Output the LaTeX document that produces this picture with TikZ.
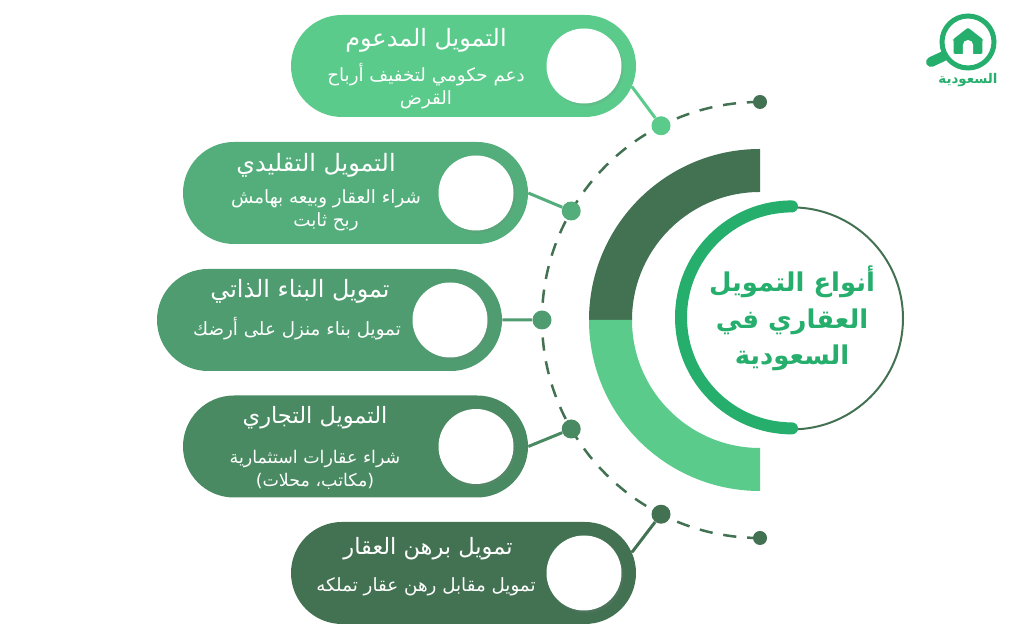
\documentclass[tikz,border=0pt]{standalone}
\usepackage{fontspec}
\usepackage{tikz}
\usetikzlibrary{positioning, shapes.misc, shadows}
\newfontfamily\arabicfont[Script=Arabic]{DejaVu Sans}
\TeXXeTstate=1
\newcommand{\arline}[1]{\beginR #1\endR}
\definecolor{tone_a}{HTML}{5ACB8B}
\definecolor{tone_b}{HTML}{53AE7B}
\definecolor{tone_c}{HTML}{4E9C6F}
\definecolor{tone_d}{HTML}{4A8A62}
\definecolor{tone_e}{HTML}{437253}
\definecolor{brand}{HTML}{26AE6C}

\begin{document}
\begin{tikzpicture}
	[on grid, node distance=3.175cm,
	pill/.style={rounded rectangle, fill=#1, minimum width=8.625cm, minimum height=2.55cm, inner sep=0pt},
	hole/.style={circle, fill=white, minimum size=1.875cm, inner sep=0pt, drop shadow={shadow xshift=.05cm, shadow yshift=-.06cm, opacity=.16}},
	headtext/.style={font=\arabicfont\fontsize{17}{20}\selectfont, text=white, inner sep=0pt},
	subtext/.style={font=\arabicfont\fontsize{13}{16.5}\selectfont, text=white, align=center, inner sep=0pt},
	joint/.style={circle, fill=#1, minimum size=.475cm, inner sep=0pt},
	tip/.style={circle, fill=tone_e, minimum size=.35cm, inner sep=0pt},
	link/.style={draw=#1, line width=.075cm}]

	\useasboundingbox (0,0) rectangle (25.6,16);
	\node[inner sep=0pt] (hub) at (19,8) {};

	\fill[tone_e] ([yshift=4.275cm]hub.center) arc [start angle=90, end angle=180, radius=4.275cm]
		-- ++(1.075,0) arc [start angle=180, end angle=90, radius=3.2cm] -- cycle;
	\fill[tone_a] ([yshift=-4.275cm]hub.center) arc [start angle=270, end angle=180, radius=4.275cm]
		-- ++(1.075,0) arc [start angle=180, end angle=270, radius=3.2cm] -- cycle;

	\node[tip] (tip_1) [above=5.45cm of hub] {};
	\node[tip] (tip_2) [below=5.45cm of hub] {};
	\draw[tone_e, line width=.0625cm, dash pattern=on .33cm off .27cm] (tip_1.center)
		arc [start angle=90, end angle=270, radius=5.45cm];

	\node[joint=tone_a] (joint_1) at ([shift={(117:5.45cm)}]hub.center) {};
	\node[joint=tone_b] (joint_2) at ([shift={(150:5.45cm)}]hub.center) {};
	\node[joint=tone_c] (joint_3) at ([shift={(180:5.45cm)}]hub.center) {};
	\node[joint=tone_d] (joint_4) at ([shift={(210:5.45cm)}]hub.center) {};
	\node[joint=tone_e] (joint_5) at ([shift={(243:5.45cm)}]hub.center) {};

	\node[pill=tone_a] (pill_1) at (11.5875,14.35) {};
	\node[pill=tone_b] (pill_2) [below left=3.175cm and 2.7cm of pill_1] {};
	\node[pill=tone_c] (pill_3) [below left=3.175cm and .65cm of pill_2] {};
	\node[pill=tone_d] (pill_4) [below right=3.1625cm and .65cm of pill_3] {};
	\node[pill=tone_e] (pill_5) [below right=3.1625cm and 2.7cm of pill_4] {};

	\node[hole] (hole_1) [right=3.0125cm of pill_1] {};
	\node[hole] (hole_2) [right=3.0125cm of pill_2] {};
	\node[hole] (hole_3) [right=3.0125cm of pill_3] {};
	\node[hole] (hole_4) [right=3.0125cm of pill_4] {};
	\node[hole] (hole_5) [right=3.0125cm of pill_5] {};

	\node[headtext] (head_1) [above left=.65cm and .9375cm of pill_1] {\arline{التمويل المدعوم}};
	\node[subtext] (sub_1) [below left=.5125cm and .9375cm of pill_1] {\arline{دعم حكومي لتخفيف أرباح}\\\arline{القرض}};
	\node[headtext] (head_2) [above left=.7cm and .9875cm of pill_2] {\arline{التمويل التقليدي}};
	\node[subtext] (sub_2) [below left=.425cm and .7375cm of pill_2] {\arline{شراء العقار وبيعه بهامش}\\\arline{ربح ثابت}};
	\node[headtext] (head_3) [above left=.725cm and .7375cm of pill_3] {\arline{تمويل البناء الذاتي}};
	\node[subtext] (sub_3) [below left=.225cm and .8125cm of pill_3] {\arline{تمويل بناء منزل على أرضك}};
	\node[headtext, font=\arabicfont\fontsize{16}{20}\selectfont] (head_4) [above left=.7125cm and 1.0125cm of pill_4] {\arline{التمويل التجاري}};
	\node[subtext, font=\arabicfont\fontsize{12.4}{16.5}\selectfont] (sub_4) [below left=.575cm and 1.0125cm of pill_4] {\arline{شراء عقارات استثمارية}\\\arline{(مكاتب، محلات)}};
	\node[headtext, font=\arabicfont\fontsize{16}{20}\selectfont] (head_5) [above left=.6cm and .8875cm of pill_5] {\arline{تمويل برهن العقار}};
	\node[subtext] (sub_5) [below left=.35cm and .9375cm of pill_5] {\arline{تمويل مقابل رهن عقار تملكه}};

	\path
		(pill_1.-7) edge [link=tone_a] (joint_1)
		(pill_2.east) edge [link=tone_b] (joint_2)
		(pill_3.east) edge [link=tone_c] (joint_3)
		(pill_4.east) edge [link=tone_d] (joint_4)
		(pill_5.7) edge [link=tone_e] (joint_5);

	\node[circle, draw=tone_e, line width=.05cm, minimum size=5.55cm, inner sep=0pt, align=center, font=\arabicfont\bfseries\fontsize{18.4}{26}\selectfont, text=brand]
		(title) [above right=.04cm and .8cm of hub]
		{\arline{أنواع التمويل}\\\arline{العقاري في}\\\arline{السعودية}};
	\draw[brand, line width=.3cm, line cap=round] (title.north) arc [start angle=90, end angle=270, radius=2.775cm];

	\node[circle, draw=brand, line width=.125cm, minimum size=1.3cm, inner sep=0pt] (lens) at (24.2,14.95) {};
	\coordinate[below left=.5cm and .925cm of lens] (grip);
	\draw[brand, line width=.25cm, line cap=round] (lens.210) -- (grip);
	\begin{scope}[shift={(lens.center)}]
		\fill[brand, rounded corners=.03cm] (0,.36) -- (.38,.06) -- (.36,.06) -- (.36,-.3) -- (-.36,-.3) -- (-.36,.06) -- (-.38,.06) -- cycle;
		\fill[white] (-.13,-.3) -- (-.13,-.08) arc [start angle=180, end angle=0, radius=.13cm] -- (.13,-.3) -- cycle;
	\end{scope}
	\node[font=\arabicfont\bfseries\fontsize{9.5}{11}\selectfont, text=brand, inner sep=0pt] (logo) [below=.95cm of lens] {\arline{السعودية}};

\end{tikzpicture}
\end{document}
